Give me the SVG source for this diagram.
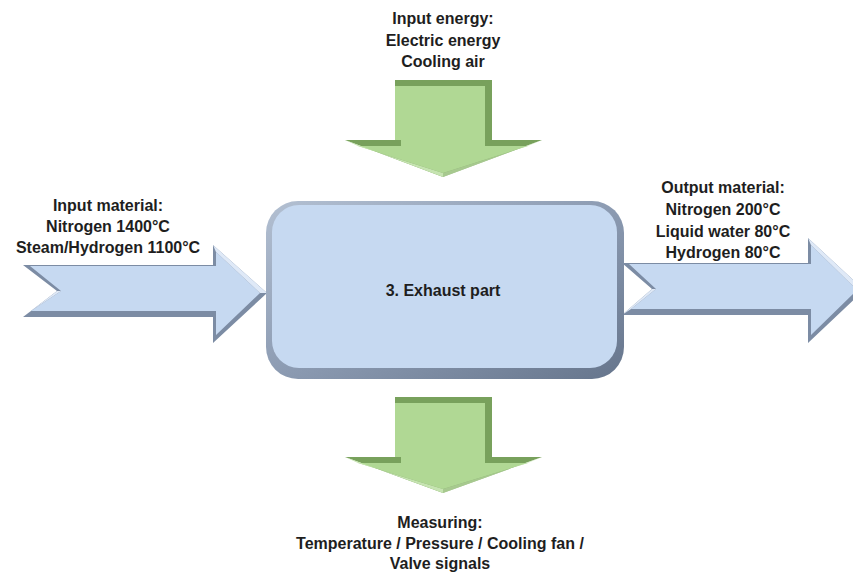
<svg xmlns="http://www.w3.org/2000/svg" width="853" height="576" viewBox="0 0 853 576">
<style>
text{font-family:"Liberation Sans",Arial,sans-serif;font-weight:bold;font-size:16px;fill:#1e1e1e;text-anchor:middle}
.bdark{fill:#7c8ca4}
.bface{fill:#c6d9f1}
.blight{fill:#dfe9f7}
.gdark{fill:#78a15c}
.gface{fill:#b0d894}
.glight{fill:#c6e4b1}
</style>
<defs>
<linearGradient id="boxbev" x1="0" y1="0" x2="1" y2="1">
<stop offset="0" stop-color="#b3c0d2"/>
<stop offset="0.5" stop-color="#8c9bb2"/>
<stop offset="1" stop-color="#66758c"/>
</linearGradient>
</defs>
<rect width="853" height="576" fill="#ffffff"/>
<g id="connectors">
<g id="arrow-input-material">
<polygon class="bdark" points="23,265 213,265 213,245 267,293 213,343 213,317 23,317 57,291"/>
<polygon class="bface" points="30,266 216,266 216,252 260,293 216,335 216,311 31,311 61,291"/>
<polygon class="blight" points="23,317 57,291 61,291 31,311"/>
<polygon class="blight" points="213,245 267,293 260,293 216,252"/>
</g>
<g id="arrow-output-material">
<polygon class="bdark" points="622,263 808,263 808,238 864,290 808,343 808,315 622,315 652,289"/>
<polygon class="bface" points="629,264 811,264 811,245 857,290 811,335 811,309 631,309 656,289"/>
<polygon class="blight" points="622,315 652,289 656,289 631,309"/>
<polygon class="blight" points="808,238 864,290 857,290 811,245"/>
</g>
<g id="arrow-input-energy">
<polygon class="gdark" points="395,80 492,80 492,140 542,140 443,177 345,140 395,140"/>
<polygon class="gface" points="395,86 485,86 485,146 528,146 443,173 358,146 401,146 401,140 395,140"/>
<polygon class="glight" points="345,140 358,146 443,173 443,177"/>
<polygon class="glight" points="542,140 528,146 443,173 443,177" opacity="0.6"/>
</g>
<g id="arrow-measuring">
<polygon class="gdark" points="395,397 492,397 492,457 542,457 443,493 345,457 395,457"/>
<polygon class="gface" points="395,403 485,403 485,463 528,463 443,489 358,463 401,463 401,457 395,457"/>
<polygon class="glight" points="345,457 358,463 443,489 443,493"/>
<polygon class="glight" points="542,457 528,463 443,489 443,493" opacity="0.6"/>
</g>
</g>
<g id="node-exhaust-part">
<rect x="266" y="201" width="358" height="178" rx="32" fill="url(#boxbev)"/>
<rect x="272" y="205" width="345" height="163" rx="27" class="bface"/>
<text x="443" y="296">3. Exhaust part</text>
</g>
<g id="label-input-energy">
<text x="443" y="24">Input energy:</text>
<text x="443" y="46">Electric energy</text>
<text x="443" y="67">Cooling air</text>
</g>
<g id="label-input-material">
<text x="108" y="211">Input material:</text>
<text x="108" y="232">Nitrogen 1400°C</text>
<text x="108" y="253">Steam/Hydrogen 1100°C</text>
</g>
<g id="label-output-material">
<text x="723" y="193">Output material:</text>
<text x="723" y="215">Nitrogen 200°C</text>
<text x="723" y="237">Liquid water 80°C</text>
<text x="723" y="258">Hydrogen 80°C</text>
</g>
<g id="label-measuring">
<text x="440" y="528">Measuring:</text>
<text x="440" y="549">Temperature / Pressure / Cooling fan /</text>
<text x="440" y="569">Valve signals</text>
</g>
</svg>
